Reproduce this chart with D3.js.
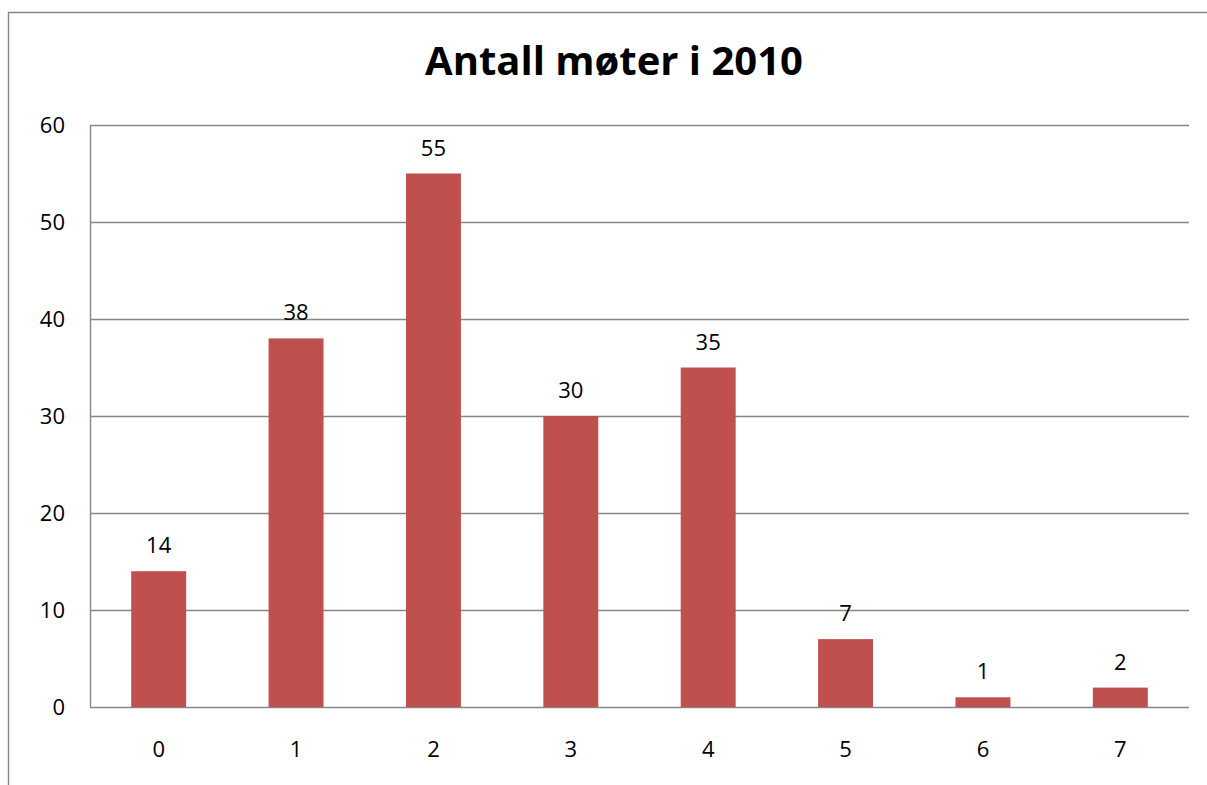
<!DOCTYPE html>
<html>
<head>
<meta charset="utf-8">
<script src="https://cdn.jsdelivr.net/npm/d3@7"></script>
<style>
  body { margin: 0; background: #fff; }
  svg { display: block; font-family: 'Open Sans', sans-serif; }
</style>
</head>
<body>
<svg id="chart" width="1207" height="785"></svg>
<script>
const categories = ['0', '1', '2', '3', '4', '5', '6', '7']
const meetings = [14, 38, 55, 30, 35, 7, 1, 2]
const yTicks = [0, 10, 20, 30, 40, 50, 60]
const title = 'Antall møter i 2010'

const svg = d3.select('#chart')
const margin = { top: 125, right: 18, bottom: 78, left: 90 }
const width = 1207
const height = 785
const grey = '#868686'

// outer chart frame (left and top edges visible)
svg.append('path')
    .attr('d', `M8.5,${height} V12.5 H${width}`)
    .attr('fill', 'none')
    .attr('stroke', grey)
    .attr('stroke-width', 1.4)

const x = d3.scaleBand()
    .domain(categories)
    .range([margin.left, width - margin.right])
    .paddingInner(0.6)
    .paddingOuter(0.3)

const y = d3.scaleLinear()
    .domain([0, 60])
    .range([height - margin.bottom, margin.top])

// gridlines
svg.append('g')
    .selectAll('line')
    .data(yTicks)
    .join('line')
    .attr('x1', margin.left)
    .attr('x2', width - margin.right)
    .attr('y1', d => Math.round(y(d)) + 0.5)
    .attr('y2', d => Math.round(y(d)) + 0.5)
    .attr('stroke', grey)
    .attr('stroke-width', 1.4)

// y axis line
svg.append('line')
    .attr('x1', margin.left + 0.5)
    .attr('x2', margin.left + 0.5)
    .attr('y1', y(60))
    .attr('y2', y(0))
    .attr('stroke', grey)
    .attr('stroke-width', 1.4)

// y tick labels
svg.append('g')
    .selectAll('text')
    .data(yTicks)
    .join('text')
    .attr('x', 65)
    .attr('y', d => y(d))
    .attr('dy', '0.35em')
    .attr('text-anchor', 'end')
    .style('font-size', '22px')
    .text(d => d)

// bars
svg.append('g')
    .selectAll('rect')
    .data(meetings)
    .join('rect')
    .attr('x', (d, i) => x(categories[i]))
    .attr('y', d => y(d))
    .attr('width', x.bandwidth())
    .attr('height', d => y(0) - y(d))
    .attr('fill', '#C0504D')

// value labels
svg.append('g')
    .selectAll('text')
    .data(meetings)
    .join('text')
    .attr('x', (d, i) => x(categories[i]) + x.bandwidth() / 2)
    .attr('y', d => y(d) - 18)
    .attr('text-anchor', 'middle')
    .style('font-size', '22px')
    .text(d => d)

// x labels
svg.append('g')
    .selectAll('text')
    .data(categories)
    .join('text')
    .attr('x', d => x(d) + x.bandwidth() / 2)
    .attr('y', 757)
    .attr('text-anchor', 'middle')
    .style('font-size', '22px')
    .text(d => d)

svg.append('text')
    .attr('x', 614)
    .attr('y', 75)
    .attr('text-anchor', 'middle')
    .style('font-size', '40px')
    .style('font-weight', 'bold')
    .text(title)
</script>
</body>
</html>
